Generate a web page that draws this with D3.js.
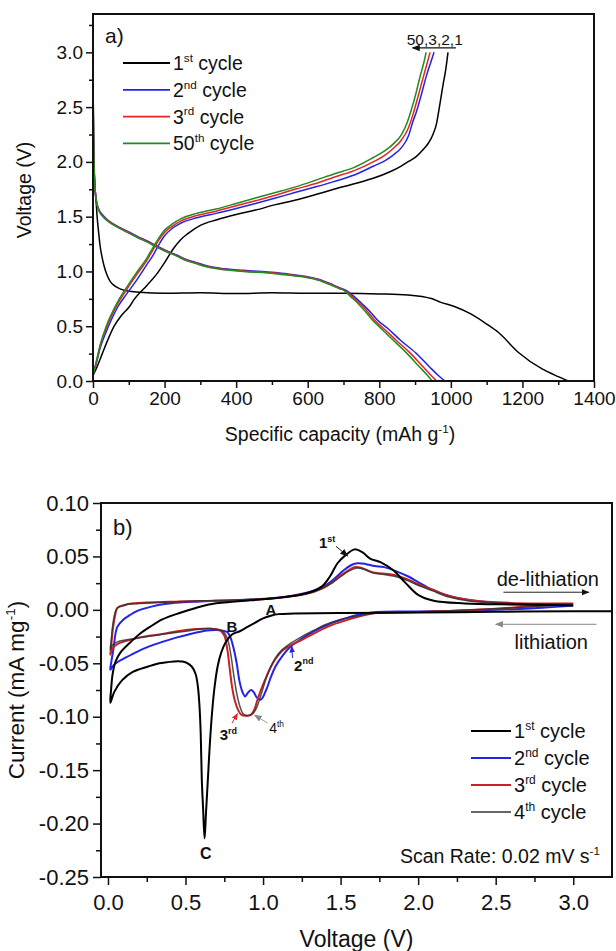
<!DOCTYPE html>
<html>
<head>
<meta charset="utf-8">
<script src="https://cdn.jsdelivr.net/npm/d3@7"></script>
<style>
  body { margin: 0; background: #fff; }
  text { font-family: "Liberation Sans", Arial, sans-serif; fill: #111; }
</style>
</head>
<body>
<div id="chart"></div>
<script>
// ---------- panel a : galvanostatic profiles [capacity mAh/g, voltage V] ----------
const capTicks = [0, 200, 400, 600, 800, 1000, 1200, 1400];
const voltTicksA = [0.0, 0.5, 1.0, 1.5, 2.0, 2.5, 3.0];

const dis1 = [[0,2.9],[1,2.4],[3,2.0],[6,1.75],[9,1.62],[12,1.48],[15,1.38],[20,1.23],[26,1.12],[31,1.05],[40,0.96],[48,0.91],[58,0.875],[70,0.85],[85,0.83],[102,0.82],[130,0.81],[200,0.80],[300,0.805],[400,0.798],[500,0.805],[600,0.80],[700,0.80],[800,0.795],[880,0.785],[948,0.75],[970,0.72],[1010,0.68],[1057,0.61],[1100,0.52],[1134,0.44],[1189,0.26],[1255,0.11],[1300,0.04],[1328,0.0]];
const chg1 = [[0,0.05],[10,0.12],[26,0.25],[42,0.38],[59,0.5],[80,0.6],[102,0.68],[114,0.74],[150,0.87],[179,0.98],[200,1.08],[223,1.2],[245,1.29],[267,1.35],[300,1.42],[344,1.47],[400,1.52],[454,1.56],[510,1.61],[564,1.65],[620,1.70],[673,1.75],[730,1.80],[783,1.85],[830,1.91],[860,1.96],[885,2.01],[904,2.05],[922,2.11],[937,2.17],[950,2.25],[960,2.35],[968,2.5],[978,2.7],[986,2.85],[992,3.0]];

const dis2 = [[0,2.7],[2,2.1],[4,1.85],[9,1.66],[16,1.57],[26,1.52],[45,1.46],[70,1.41],[100,1.36],[124,1.32],[150,1.28],[179,1.23],[205,1.19],[234,1.15],[260,1.11],[289,1.08],[320,1.05],[355,1.03],[421,1.01],[509,0.99],[560,0.97],[596,0.955],[630,0.93],[662,0.89],[690,0.85],[706,0.83],[730,0.77],[750,0.71],[775,0.63],[794,0.56],[827,0.47],[860,0.37],[904,0.25],[940,0.13],[965,0.05],[983,0.0]];
const chg2 = [[0,0.05],[10,0.17],[20,0.3],[37,0.45],[50,0.55],[70,0.68],[95,0.8],[124,0.93],[150,1.06],[168,1.15],[185,1.25],[201,1.33],[220,1.39],[245,1.44],[290,1.49],[344,1.53],[400,1.575],[454,1.62],[510,1.67],[564,1.72],[620,1.77],[673,1.82],[730,1.88],[783,1.96],[815,2.01],[838,2.06],[862,2.13],[882,2.24],[893,2.36],[904,2.46],[918,2.62],[932,2.79],[944,2.91],[953,3.0]];

const dis3 = [[0,2.75],[2,2.1],[4,1.84],[9,1.65],[16,1.56],[26,1.51],[45,1.455],[70,1.405],[100,1.355],[124,1.315],[150,1.275],[179,1.225],[205,1.185],[234,1.145],[260,1.105],[289,1.075],[320,1.045],[355,1.025],[421,1.005],[509,0.985],[560,0.965],[596,0.95],[630,0.925],[662,0.885],[690,0.845],[706,0.82],[725,0.77],[745,0.71],[768,0.63],[786,0.56],[815,0.47],[848,0.37],[888,0.25],[922,0.13],[945,0.05],[960,0.0]];
const chg3 = [[0,0.05],[10,0.18],[20,0.32],[37,0.48],[50,0.58],[70,0.71],[95,0.84],[124,0.98],[150,1.1],[168,1.2],[185,1.29],[201,1.36],[220,1.41],[245,1.46],[290,1.51],[344,1.55],[400,1.6],[454,1.645],[510,1.695],[564,1.75],[620,1.80],[673,1.86],[730,1.92],[783,2.0],[815,2.06],[838,2.12],[862,2.2],[880,2.3],[893,2.42],[906,2.57],[920,2.74],[932,2.88],[942,3.0]];

const dis50 = [[0,2.8],[2,2.15],[4,1.85],[9,1.65],[16,1.56],[26,1.505],[45,1.45],[70,1.40],[100,1.35],[124,1.31],[150,1.27],[179,1.22],[205,1.18],[234,1.14],[260,1.10],[289,1.07],[320,1.04],[355,1.02],[421,1.0],[509,0.98],[560,0.96],[596,0.945],[630,0.92],[662,0.88],[690,0.84],[700,0.83],[720,0.77],[740,0.71],[762,0.63],[780,0.56],[808,0.47],[840,0.37],[878,0.25],[912,0.13],[935,0.05],[948,0.0]];
const chg50 = [[0,0.05],[10,0.19],[20,0.33],[37,0.5],[50,0.6],[70,0.73],[95,0.86],[124,1.0],[150,1.12],[168,1.22],[185,1.31],[201,1.38],[220,1.43],[245,1.48],[290,1.53],[344,1.57],[400,1.62],[454,1.67],[510,1.72],[564,1.77],[620,1.83],[673,1.89],[730,1.95],[783,2.04],[815,2.1],[838,2.16],[862,2.25],[878,2.36],[890,2.48],[902,2.62],[914,2.78],[924,2.9],[931,3.0]];

const cycleLabelsA = [["1","st"],["2","nd"],["3","rd"],["50","th"]];
const cycleColorsA = ["#000000", "#2323e8", "#e82323", "#218a21"];

// ---------- panel b : cyclic voltammetry [voltage V, current mA/mg] ----------
const cvVoltTicks = [0.0, 0.5, 1.0, 1.5, 2.0, 2.5, 3.0];
const cvCurrentTicks = [0.10, 0.05, 0.00, -0.05, -0.10, -0.15, -0.20, -0.25];

const cv1 = [[3.3,-0.0012],[3.0,-0.0013],[2.5,-0.0018],[2.0,-0.0025],[1.5,-0.003],[1.2,-0.0035],[1.1,-0.004],[1.05,-0.0055],[1.0,-0.008],[0.95,-0.012],[0.9,-0.016],[0.85,-0.020],[0.80,-0.023],[0.76,-0.030],[0.73,-0.040],[0.707,-0.053],[0.685,-0.075],[0.669,-0.10],[0.655,-0.13],[0.644,-0.159],[0.632,-0.19],[0.623,-0.214],[0.613,-0.185],[0.605,-0.159],[0.598,-0.116],[0.59,-0.09],[0.58,-0.072],[0.565,-0.06],[0.54,-0.053],[0.5,-0.049],[0.45,-0.048],[0.38,-0.049],[0.33,-0.050],[0.26,-0.053],[0.16,-0.058],[0.09,-0.066],[0.04,-0.077],[0.015,-0.087],
  [0.02,-0.075],[0.03,-0.06],[0.05,-0.048],[0.08,-0.040],[0.14,-0.031],[0.2,-0.023],[0.27,-0.016],[0.35,-0.009],[0.44,-0.004],[0.55,0.001],[0.65,0.005],[0.82,0.0077],[1.07,0.0108],[1.28,0.0155],[1.38,0.022],[1.43,0.031],[1.48,0.0436],[1.53,0.051],[1.59,0.0566],[1.64,0.054],[1.69,0.048],[1.76,0.0445],[1.84,0.037],[1.92,0.025],[2.0,0.014],[2.1,0.0085],[2.3,0.006],[2.6,0.005],[2.85,0.0046],[3.0,0.004]];
const cv2 = [[3.0,0.004],[2.8,0.002],[2.5,0.0],[2.2,-0.001],[2.0,-0.0015],[1.73,-0.002],[1.6,-0.005],[1.53,-0.008],[1.43,-0.013],[1.33,-0.020],[1.25,-0.027],[1.18,-0.034],[1.125,-0.043],[1.08,-0.053],[1.05,-0.063],[1.02,-0.075],[0.986,-0.084],[0.96,-0.082],[0.94,-0.077],[0.923,-0.075],[0.90,-0.078],[0.885,-0.081],[0.865,-0.076],[0.847,-0.066],[0.83,-0.05],[0.81,-0.036],[0.79,-0.026],[0.77,-0.021],[0.72,-0.019],[0.66,-0.019],[0.61,-0.020],[0.52,-0.023],[0.44,-0.026],[0.35,-0.030],[0.27,-0.034],[0.19,-0.039],[0.11,-0.045],[0.06,-0.049],[0.035,-0.052],[0.015,-0.056],
  [0.02,-0.05],[0.035,-0.037],[0.06,-0.016],[0.1,-0.009],[0.14,-0.005],[0.19,-0.001],[0.28,0.003],[0.365,0.0055],[0.57,0.0077],[0.82,0.009],[1.07,0.011],[1.28,0.016],[1.38,0.021],[1.45,0.028],[1.52,0.037],[1.57,0.042],[1.61,0.0436],[1.66,0.043],[1.72,0.041],[1.78,0.040],[1.86,0.036],[1.94,0.031],[2.0,0.026],[2.09,0.019],[2.2,0.013],[2.34,0.009],[2.6,0.0055],[3.0,0.004]];
const cv3 = [[3.0,0.006],[2.8,0.004],[2.5,0.001],[2.2,-0.001],[2.0,-0.002],[1.73,-0.003],[1.6,-0.007],[1.53,-0.010],[1.43,-0.015],[1.33,-0.022],[1.25,-0.028],[1.18,-0.033],[1.125,-0.038],[1.08,-0.046],[1.05,-0.0535],[1.02,-0.063],[0.986,-0.075],[0.96,-0.086],[0.945,-0.093],[0.923,-0.098],[0.89,-0.099],[0.859,-0.098],[0.84,-0.094],[0.82,-0.086],[0.80,-0.072],[0.785,-0.055],[0.77,-0.0375],[0.75,-0.024],[0.72,-0.019],[0.66,-0.0175],[0.57,-0.018],[0.45,-0.020],[0.33,-0.023],[0.2,-0.026],[0.12,-0.029],[0.06,-0.032],[0.03,-0.036],[0.015,-0.042],
  [0.02,-0.035],[0.03,-0.02],[0.045,-0.006],[0.06,0.0016],[0.1,0.004],[0.14,0.0057],[0.25,0.0068],[0.44,0.0077],[0.82,0.009],[1.075,0.0108],[1.28,0.015],[1.38,0.02],[1.45,0.026],[1.5,0.032],[1.55,0.037],[1.594,0.040],[1.64,0.039],[1.69,0.036],[1.73,0.0345],[1.83,0.033],[1.94,0.028],[2.0,0.024],[2.09,0.019],[2.2,0.013],[2.34,0.009],[2.6,0.0065],[3.0,0.006]];
const cv4 = [[3.0,0.0055],[2.5,0.001],[2.0,-0.002],[1.73,-0.003],[1.6,-0.006],[1.5,-0.009],[1.4,-0.014],[1.33,-0.019],[1.25,-0.025],[1.18,-0.031],[1.125,-0.037],[1.08,-0.045],[1.05,-0.053],[1.02,-0.064],[0.99,-0.078],[0.96,-0.091],[0.935,-0.097],[0.9,-0.099],[0.87,-0.097],[0.85,-0.09],[0.83,-0.078],[0.81,-0.06],[0.79,-0.04],[0.77,-0.027],[0.74,-0.020],[0.68,-0.018],[0.6,-0.018],[0.5,-0.020],[0.4,-0.022],[0.3,-0.024],[0.2,-0.026],[0.12,-0.028],[0.06,-0.030],[0.03,-0.033],[0.015,-0.037],
  [0.02,-0.03],[0.03,-0.015],[0.045,-0.003],[0.06,0.002],[0.1,0.0045],[0.2,0.006],[0.44,0.0077],[0.82,0.0092],[1.075,0.011],[1.28,0.015],[1.38,0.02],[1.45,0.026],[1.5,0.031],[1.55,0.036],[1.6,0.039],[1.65,0.038],[1.7,0.035],[1.78,0.033],[1.86,0.031],[1.94,0.027],[2.0,0.023],[2.09,0.018],[2.2,0.012],[2.34,0.008],[2.6,0.006],[3.0,0.0055]];

const cycleLabelsB = [["1","st"],["2","nd"],["3","rd"],["4","th"]];
const cycleColorsB = ["#000000", "#2323e8", "#c82222", "#333333"];

// ---------- drawing ----------
const W = 616, H = 951;
const FONT = '"Liberation Sans", Arial, sans-serif';
const svg = d3.select("#chart").append("svg").attr("width", W).attr("height", H);

const defs = svg.append("defs");
function marker(id, color, size) {
  defs.append("marker").attr("id", id)
    .attr("viewBox", "0 0 10 10").attr("refX", 9).attr("refY", 5)
    .attr("markerWidth", size).attr("markerHeight", size).attr("orient", "auto")
    .attr("markerUnits", "userSpaceOnUse")
    .append("path").attr("d", "M0,1 L10,5 L0,9 z").attr("fill", color);
}
marker("ah-black", "#111", 8);
marker("ah-gray", "#888", 8);
marker("ah-blue", "#2323e8", 7);
marker("ah-red", "#e82323", 7);

// text with superscripts: parts like ["1", "^st", " cycle"]
function richText(g, x, y, parts, size, anchor) {
  const t = g.append("text").attr("x", x).attr("y", y).attr("font-size", size)
    .attr("text-anchor", anchor || "start");
  let up = false;
  parts.forEach(p => {
    const sup = p.startsWith("^");
    const s = t.append("tspan").text(sup ? p.slice(1) : p);
    if (sup) {
      s.attr("font-size", size * 0.6).attr("dy", -size * 0.42);
      up = true;
    } else if (up) {
      s.attr("dy", size * 0.42);
      up = false;
    }
  });
  return t;
}

function drawFrame(g, x, y, o) {
  const [x0, x1] = x.range(), [y0, y1] = y.range();
  const styleText = a => a.selectAll("text").attr("font-size", o.font).attr("fill", "#111")
    .attr("font-family", FONT);
  g.append("g").attr("transform", `translate(0,${y0})`)
    .call(d3.axisBottom(x).tickValues(o.xMinor).tickSize(o.minor).tickFormat(""))
    .call(a => a.select(".domain").remove());
  g.append("g").attr("transform", `translate(0,${y0})`)
    .call(d3.axisBottom(x).tickValues(o.xMajor).tickSize(o.major).tickPadding(o.padX).tickFormat(o.fmtX))
    .call(a => a.select(".domain").remove())
    .call(styleText);
  g.append("g").attr("transform", `translate(${x0},0)`)
    .call(d3.axisLeft(y).tickValues(o.yMinor).tickSize(o.minor).tickFormat(""))
    .call(a => a.select(".domain").remove());
  g.append("g").attr("transform", `translate(${x0},0)`)
    .call(d3.axisLeft(y).tickValues(o.yMajor).tickSize(o.major).tickPadding(o.padY).tickFormat(o.fmtY))
    .call(a => a.select(".domain").remove())
    .call(styleText);
  g.selectAll(".tick line").attr("stroke", "#111").attr("stroke-width", 1.5);
  g.append("rect").attr("x", x0).attr("y", y1).attr("width", x1 - x0).attr("height", y0 - y1)
    .attr("fill", "none").attr("stroke", "#111").attr("stroke-width", 2);
}

// ===== panel a =====
const xA = d3.scaleLinear().domain([0, 1400]).range([93, 594]);
const yA = d3.scaleLinear().domain([0, 3.35]).range([381, 14]);
const gA = svg.append("g");

defs.append("clipPath").attr("id", "clipA").append("rect")
  .attr("x", 93).attr("y", 14).attr("width", 501).attr("height", 367);

const lineA = d3.line().x(d => xA(d[0])).y(d => yA(d[1])).curve(d3.curveMonotoneX);
const seriesA = [[dis1, chg1], [dis2, chg2], [dis3, chg3], [dis50, chg50]];
const curvesA = gA.append("g").attr("clip-path", "url(#clipA)");
seriesA.forEach((pair, i) => {
  pair.forEach(arr => {
    curvesA.append("path").attr("d", lineA(arr)).attr("fill", "none")
      .attr("stroke", cycleColorsA[i]).attr("stroke-width", 1.5);
  });
});

drawFrame(gA, xA, yA, {
  xMajor: capTicks, xMinor: d3.range(100, 1400, 200),
  yMajor: voltTicksA, yMinor: d3.range(0.25, 3.35, 0.5),
  fmtX: d => d, fmtY: d => d.toFixed(1),
  font: 19, major: 7, minor: 4, padX: 4, padY: 3
});

richText(gA, 340, 441, ["Specific capacity (mAh g", "^-1", ")"], 19.5, "middle");
gA.append("text").attr("transform", "translate(31,190) rotate(-90)")
  .attr("text-anchor", "middle").attr("font-size", 19.5).text("Voltage (V)");
gA.append("text").attr("x", 105).attr("y", 43).attr("font-size", 21).text("a)");

cycleLabelsA.forEach((c, i) => {
  const yy = 63 + i * 26.8;
  gA.append("line").attr("x1", 123).attr("x2", 170).attr("y1", yy).attr("y2", yy)
    .attr("stroke", cycleColorsA[i]).attr("stroke-width", 1.8);
  richText(gA, 173, yy + 7, [c[0], "^" + c[1], " cycle"], 19.5);
});

// "50,3,2,1" arrow
gA.append("text").attr("x", xA(955)).attr("y", yA(3.065)).attr("text-anchor", "middle")
  .attr("font-size", 15.5).text("50,3,2,1");
gA.append("line").attr("x1", xA(1014)).attr("x2", xA(893)).attr("y1", yA(3.04)).attr("y2", yA(3.04))
  .attr("stroke", "#111").attr("stroke-width", 1.2).attr("marker-end", "url(#ah-black)");

// ===== panel b =====
const xB = d3.scaleLinear().domain([-0.045, 3.25]).range([101, 612]);
const yB = d3.scaleLinear().domain([-0.25, 0.10]).range([877, 503]);
const gB = svg.append("g");

defs.append("clipPath").attr("id", "clipB").append("rect")
  .attr("x", 101).attr("y", 503).attr("width", 511).attr("height", 374);

const lineB = d3.line().x(d => xB(d[0])).y(d => yB(d[1])).curve(d3.curveCatmullRom.alpha(0.5));
const seriesB = [cv1, cv2, cv3, cv4];
const curvesB = gB.append("g").attr("clip-path", "url(#clipB)");
[1, 2, 3, 0].forEach(i => {
  curvesB.append("path").attr("d", lineB(seriesB[i])).attr("fill", "none")
    .attr("stroke", cycleColorsB[i]).attr("stroke-width", i === 3 ? 1.5 : 2)
    .attr("stroke-opacity", i === 3 ? 0.85 : 1);
});

drawFrame(gB, xB, yB, {
  xMajor: cvVoltTicks, xMinor: d3.range(0.25, 3.25, 0.5),
  yMajor: cvCurrentTicks, yMinor: d3.range(-0.225, 0.1, 0.05),
  fmtX: d => d.toFixed(1), fmtY: d => d.toFixed(2).replace("-0.00", "0.00"),
  font: 22, major: 8, minor: 5, padX: 9, padY: 4
});

gB.append("text").attr("x", (101 + 612) / 2).attr("y", 947).attr("text-anchor", "middle")
  .attr("font-size", 23).text("Voltage (V)");
richText(gB, 0, 0, ["Current (mA mg", "^-1", ")"], 22.5, "middle")
  .attr("transform", `translate(24,${(503 + 877) / 2}) rotate(-90)`);
gB.append("text").attr("x", 113).attr("y", 535).attr("font-size", 22).text("b)");

cycleLabelsB.forEach((c, i) => {
  const yy = 731 + i * 27;
  gB.append("line").attr("x1", 471).attr("x2", 511).attr("y1", yy).attr("y2", yy)
    .attr("stroke", cycleColorsB[i]).attr("stroke-width", i === 3 ? 1.3 : 2);
  richText(gB, 514, yy + 7, [c[0], "^" + c[1], " cycle"], 20);
});

richText(gB, 600, 863, ["Scan Rate: 0.02 mV s", "^-1"], 19.5, "end");

// direction arrows
gB.append("text").attr("x", 599).attr("y", 586).attr("text-anchor", "end")
  .attr("font-size", 20).text("de-lithiation");
gB.append("line").attr("x1", xB(2.55)).attr("x2", xB(3.1)).attr("y1", yB(0.0165)).attr("y2", yB(0.0165))
  .attr("stroke", "#222").attr("stroke-width", 1).attr("marker-end", "url(#ah-black)");
gB.append("text").attr("x", 588).attr("y", 649).attr("text-anchor", "end")
  .attr("font-size", 20).text("lithiation");
gB.append("line").attr("x1", xB(3.15)).attr("x2", xB(2.5)).attr("y1", yB(-0.0135)).attr("y2", yB(-0.0135))
  .attr("stroke", "#888").attr("stroke-width", 1).attr("marker-end", "url(#ah-gray)");

// peak labels
function bold(x, y, txt, color, size) {
  return gB.append("text").attr("x", xB(x)).attr("y", yB(y)).attr("text-anchor", "middle")
    .attr("font-size", size).attr("font-weight", "bold").attr("fill", color).text(txt);
}
bold(1.05, -0.005, "A", "#111", 15);
bold(0.80, -0.021, "B", "#111", 15);
bold(0.63, -0.233, "C", "#111", 16);

function pointer(x1, y1, x2, y2, mk, color) {
  gB.append("line").attr("x1", xB(x1)).attr("y1", yB(y1)).attr("x2", xB(x2)).attr("y2", yB(y2))
    .attr("stroke", color).attr("stroke-width", 1).attr("marker-end", `url(#${mk})`);
}
richText(gB, xB(1.36), yB(0.058), ["1", "^st"], 15).attr("font-weight", "bold");
pointer(1.47, 0.0595, 1.545, 0.0505, "ah-black", "#111");

richText(gB, xB(1.2), yB(-0.057), ["2", "^nd"], 15).attr("font-weight", "bold").attr("fill", "#2323e8");
pointer(1.19, -0.045, 1.185, -0.034, "ah-blue", "#2323e8");

richText(gB, xB(0.72), yB(-0.122), ["3", "^rd"], 15).attr("font-weight", "bold").attr("fill", "#e82323");
pointer(0.80, -0.106, 0.835, -0.097, "ah-red", "#e82323");

richText(gB, xB(1.04), yB(-0.115), ["4", "^th"], 14).attr("fill", "#999");
pointer(1.03, -0.106, 0.945, -0.0985, "ah-gray", "#999");
</script>
</body>
</html>
